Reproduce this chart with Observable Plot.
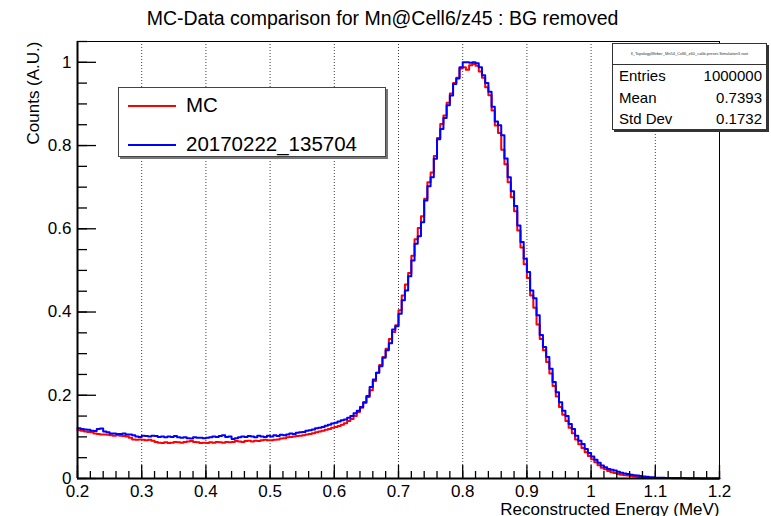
<!DOCTYPE html>
<html>
<head>
<meta charset="utf-8">
<script src="https://cdn.jsdelivr.net/npm/d3@7"></script>
<script src="https://cdn.jsdelivr.net/npm/@observablehq/plot@0.6"></script>
<style>
  html, body { margin: 0; padding: 0; background: #fff; }
  body { font-family: "Liberation Sans", Arial, Helvetica, sans-serif; }
  #wrap { position: relative; width: 771px; height: 516px; overflow: hidden; }
  #wrap svg { position: absolute; left: 0; top: 0; }
  .legend { position: absolute; left: 118px; top: 87px; width: 266px; height: 68px;
            background: #fff; border: 1px solid #444; box-shadow: 2px 2px 0 #777; }
  .legend .sw { position: absolute; left: 9px; width: 48px; height: 0; border-top: 2px solid; }
  .legend .lab { position: absolute; left: 67px; font-size: 20.5px; white-space: nowrap; line-height: 22px; top: -11px; }
  .stats { position: absolute; left: 612px; top: 43px; width: 153px; height: 85px;
           background: #fff; border: 1px solid #333; box-shadow: 2px 2px 0 #333; font-size: 15px; }
  .stats .hdr { height: 20px; border-bottom: 1px solid #333; font-size: 4px; text-align: center; line-height: 20px; white-space: nowrap; overflow: hidden; color:#333; }
  .stats .r { display: flex; justify-content: space-between; padding: 0 4px 0 6px; height: 21.5px; line-height: 21.5px; }
</style>
</head>
<body>
<div id="wrap"></div>
<script>
// ---- data ----
const binStart = 0.2;
const binWidth = 0.005;
const seriesNames = ["MC", "20170222_135704"];
const mcCounts = [
  0.116, 0.115, 0.113, 0.112, 0.111, 0.108, 0.107, 0.106, 0.106, 0.105,
  0.104, 0.103, 0.104, 0.103, 0.102, 0.101, 0.098, 0.094, 0.093, 0.094,
  0.093, 0.092, 0.093, 0.091, 0.088, 0.086, 0.085, 0.087, 0.085, 0.086,
  0.088, 0.087, 0.086, 0.088, 0.089, 0.090, 0.088, 0.087, 0.085, 0.086,
  0.085, 0.087, 0.086, 0.088, 0.087, 0.086, 0.088, 0.087, 0.088, 0.090,
  0.089, 0.088, 0.090, 0.091, 0.089, 0.091, 0.090, 0.092, 0.093, 0.092,
  0.092, 0.093, 0.094, 0.096, 0.097, 0.099, 0.100, 0.101, 0.102, 0.103,
  0.104, 0.106, 0.107, 0.109, 0.111, 0.113, 0.115, 0.117, 0.119, 0.122,
  0.124, 0.126, 0.129, 0.133, 0.138, 0.143, 0.150, 0.160, 0.170, 0.184,
  0.196, 0.212, 0.234, 0.254, 0.273, 0.292, 0.312, 0.335, 0.352, 0.368,
  0.404, 0.440, 0.466, 0.494, 0.535, 0.575, 0.602, 0.630, 0.672, 0.712,
  0.735, 0.775, 0.818, 0.852, 0.872, 0.903, 0.925, 0.950, 0.963, 0.985,
  0.988, 0.982, 0.993, 0.996, 0.992, 0.978, 0.963, 0.940, 0.921, 0.884,
  0.848, 0.830, 0.790, 0.755, 0.712, 0.676, 0.642, 0.596, 0.555, 0.515,
  0.482, 0.440, 0.410, 0.370, 0.335, 0.308, 0.280, 0.252, 0.222, 0.197,
  0.172, 0.153, 0.138, 0.122, 0.109, 0.094, 0.082, 0.073, 0.063, 0.054,
  0.046, 0.039, 0.032, 0.026, 0.022, 0.018, 0.015, 0.013, 0.011, 0.009,
  0.008, 0.007, 0.006, 0.005, 0.004, 0.003, 0.003, 0.002, 0.002, 0.001,
  0.001, 0.001, 0.001, 0.001, 0.001, 0.0005, 0.0005, 0.0005, 0.0004, 0.0004,
  0.0003, 0.0003, 0.0003, 0.0002, 0.0002, 0.0002, 0.0002, 0.0001, 0.0001, 0.0001
];
const dataCounts = [
  0.121, 0.119, 0.118, 0.117, 0.115, 0.114, 0.119, 0.120, 0.113, 0.111,
  0.108, 0.108, 0.107, 0.107, 0.108, 0.106, 0.106, 0.104, 0.101, 0.100,
  0.103, 0.102, 0.101, 0.103, 0.102, 0.100, 0.101, 0.099, 0.101, 0.100,
  0.102, 0.099, 0.098, 0.099, 0.097, 0.096, 0.099, 0.098, 0.098, 0.097,
  0.098, 0.099, 0.101, 0.100, 0.102, 0.104, 0.100, 0.101, 0.095, 0.097,
  0.099, 0.101, 0.100, 0.102, 0.101, 0.099, 0.103, 0.101, 0.100, 0.103,
  0.101, 0.104, 0.102, 0.105, 0.104, 0.106, 0.108, 0.107, 0.110, 0.111,
  0.112, 0.115, 0.116, 0.118, 0.121, 0.122, 0.124, 0.127, 0.129, 0.132,
  0.134, 0.137, 0.140, 0.142, 0.146, 0.150, 0.157, 0.163, 0.172, 0.182,
  0.198, 0.220, 0.238, 0.254, 0.270, 0.290, 0.308, 0.325, 0.358, 0.366,
  0.396, 0.428, 0.452, 0.486, 0.524, 0.564, 0.582, 0.616, 0.668, 0.702,
  0.724, 0.768, 0.815, 0.840, 0.866, 0.897, 0.920, 0.948, 0.961, 0.988,
  1.000, 1.000, 0.999, 1.000, 0.998, 0.988, 0.969, 0.950, 0.929, 0.893,
  0.858, 0.849, 0.825, 0.769, 0.724, 0.690, 0.655, 0.608, 0.568, 0.528,
  0.496, 0.452, 0.433, 0.392, 0.345, 0.316, 0.292, 0.264, 0.232, 0.207,
  0.183, 0.163, 0.150, 0.131, 0.119, 0.103, 0.091, 0.083, 0.071, 0.061,
  0.053, 0.045, 0.038, 0.031, 0.027, 0.023, 0.021, 0.019, 0.016, 0.014,
  0.012, 0.011, 0.009, 0.008, 0.007, 0.006, 0.005, 0.004, 0.003, 0.003,
  0.002, 0.002, 0.002, 0.001, 0.001, 0.001, 0.001, 0.001, 0.001, 0.0005,
  0.0005, 0.0005, 0.0005, 0.0005, 0.0003, 0.0003, 0.0003, 0.0002, 0.0002, 0.0002
];
const xTickValues = [0.2, 0.3, 0.4, 0.5, 0.6, 0.7, 0.8, 0.9, 1.0, 1.1, 1.2];
const xTickLabels = ["0.2", "0.3", "0.4", "0.5", "0.6", "0.7", "0.8", "0.9", "1", "1.1", "1.2"];
const yTickValues = [0, 0.2, 0.4, 0.6, 0.8, 1.0];
const yTickLabels = ["0", "0.2", "0.4", "0.6", "0.8", "1"];
const xMinorValues = d3.range(0.2, 1.2001, 0.02);
const yMinorValues = d3.range(0, 1.0501, 0.05);
const titleText = "MC-Data comparison for Mn@Cell6/z45 : BG removed";
const xLabel = "Reconstructed Energy (MeV)";
const yLabel = "Counts (A.U.)";
const statsHeader = "ll_TopologyWeber_Mn54_Cell6_z60_calib-preset-Simulation3.root";
const statsNames = ["Entries", "Mean", "Std Dev"];
const statsValues = ["1000000", "0.7393", "0.1732"];
const colors = ["#ff0000", "#0000ff"];

// ---- build step outlines from bin contents ----
function steps(counts) {
  const pts = counts.map((v, i) => ({x: binStart + i * binWidth, y: v}));
  pts.push({x: binStart + counts.length * binWidth, y: counts[counts.length - 1]});
  return pts;
}
const mcSteps = steps(mcCounts);
const dataSteps = steps(dataCounts);

const W = 771, H = 516, mL = 77, mR = 52, mT = 41, mB = 38;
const fw = W - mL - mR, fh = H - mT - mB;
const xFmt = d => xTickLabels[xTickValues.findIndex(v => Math.abs(v - d) < 1e-9)];
const yFmt = d => yTickLabels[yTickValues.findIndex(v => Math.abs(v - d) < 1e-9)];

const chart = Plot.plot({
  width: W, height: H,
  marginLeft: mL, marginRight: mR, marginTop: mT, marginBottom: mB,
  style: {fontFamily: "Liberation Sans, Arial, sans-serif", color: "#000", background: "#fff"},
  x: {domain: [0.2, 1.2]},
  y: {domain: [0, 1.05]},
  marks: [
    Plot.gridX(xTickValues.slice(1, -1), {stroke: "#000", strokeOpacity: 0.75, strokeDasharray: "1,2", strokeWidth: 1}),
    Plot.line(mcSteps, {x: "x", y: "y", curve: "step-after", stroke: colors[0], strokeWidth: 2}),
    Plot.line(dataSteps, {x: "x", y: "y", curve: "step-after", stroke: colors[1], strokeWidth: 2}),
    Plot.tickX(xTickValues, {x: d => d, insetTop: fh - 13, stroke: "#000", strokeWidth: 1.3}),
    Plot.tickX(xMinorValues, {x: d => d, insetTop: fh - 7, stroke: "#000", strokeWidth: 1.3}),
    Plot.tickY(yTickValues, {y: d => d, insetRight: fw - 19, stroke: "#000", strokeWidth: 1.3}),
    Plot.tickY(yMinorValues, {y: d => d, insetRight: fw - 10, stroke: "#000", strokeWidth: 1.3}),
    Plot.frame({stroke: "#000", strokeWidth: 1}),
    Plot.ruleX([0.2], {stroke: "#000", strokeWidth: 2}),
    Plot.ruleY([0], {stroke: "#000", strokeWidth: 2}),
    Plot.axisX(xTickValues, {tickSize: 0, tickPadding: 6, tickFormat: xFmt, fontSize: 17, label: null}),
    Plot.axisY(yTickValues, {tickSize: 0, tickPadding: 6, tickFormat: yFmt, fontSize: 17, label: null}),
    Plot.text([titleText], {frameAnchor: "top", dx: -16, dy: -23, fontSize: 19.5, lineAnchor: "middle"}),
    Plot.text([xLabel], {frameAnchor: "bottom-right", dy: 31, textAnchor: "end", fontSize: 17, lineAnchor: "middle"}),
    Plot.text([yLabel], {frameAnchor: "top-left", dx: -44, rotate: -90, textAnchor: "end", fontSize: 17, lineAnchor: "middle"})
  ]
});

const wrap = document.getElementById("wrap");
wrap.appendChild(chart);

// legend
const leg = document.createElement("div");
leg.className = "legend";
seriesNames.forEach((name, i) => {
  const row = document.createElement("div");
  row.style.position = "absolute";
  row.style.left = "0px";
  row.style.top = (i === 0 ? 17 : 56) + "px";
  const sw = document.createElement("div");
  sw.className = "sw";
  sw.style.borderTopColor = colors[i];
  const lab = document.createElement("div");
  lab.className = "lab";
  lab.textContent = name;
  row.appendChild(sw); row.appendChild(lab);
  leg.appendChild(row);
});
wrap.appendChild(leg);

// stats box
const st = document.createElement("div");
st.className = "stats";
const hdr = document.createElement("div");
hdr.className = "hdr";
hdr.textContent = statsHeader;
st.appendChild(hdr);
statsNames.forEach((n, i) => {
  const r = document.createElement("div");
  r.className = "r";
  const a = document.createElement("span"); a.textContent = n;
  const b = document.createElement("span"); b.textContent = statsValues[i];
  r.appendChild(a); r.appendChild(b);
  st.appendChild(r);
});
wrap.appendChild(st);
</script>
</body>
</html>
